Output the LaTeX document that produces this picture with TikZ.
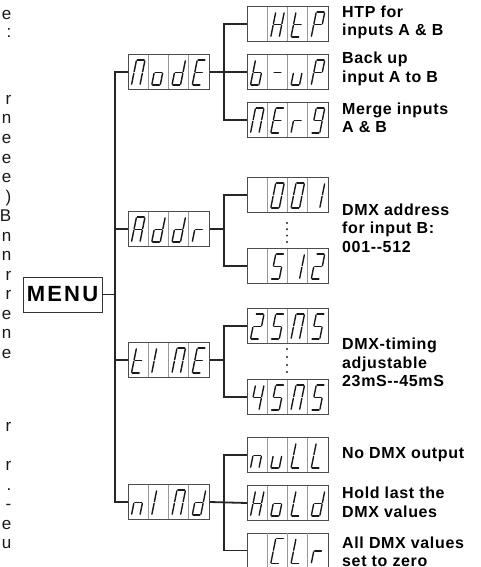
\documentclass[tikz,border=0pt]{standalone}
\usepackage{fontspec}
\setmainfont{Liberation Sans}
\newfontfamily\descfam[LetterSpace=4]{Liberation Sans}
\newfontfamily\menufam[LetterSpace=10]{Liberation Sans}
\newcommand\descfont{\descfam\bfseries\fontsize{16}{18.5}\selectfont}
\newcommand\edgefont{\fontsize{17}{18}\selectfont}
\tikzset{
  conn/.style={line width=1.8pt, black!85},
  disp/.style={draw=black!70, line width=0.9pt, minimum width=81pt, minimum height=35pt, inner sep=0pt, anchor=west, fill=white},
  cellsep/.style={draw=black!40, line width=0.7pt},
  segline/.style={line width=1.4pt, black!90, line cap=round, shorten <=0.9pt, shorten >=0.9pt},
  desc/.style={anchor=west, align=left, font=\descfont, inner sep=0pt},
  edgech/.style={anchor=base east, font=\edgefont, inner sep=0pt, black!90},
  menubox/.style={draw=black!80, line width=0.9pt, minimum width=79pt, minimum height=35pt, inner sep=0pt, font=\menufam\bfseries\fontsize{22}{22}\selectfont}
}
\newcommand\sga{\draw[segline] (8.5,6)--(17,6);}
\newcommand\sgb{\draw[segline] (17,6)--(14.5,18.5);}
\newcommand\sgc{\draw[segline] (14.5,18.5)--(12,31);}
\newcommand\sgd{\draw[segline] (3.5,31)--(12,31);}
\newcommand\sge{\draw[segline] (6,18.5)--(3.5,31);}
\newcommand\sgf{\draw[segline] (8.5,6)--(6,18.5);}
\newcommand\sgg{\draw[segline] (6,18.5)--(14.5,18.5);}
\newcommand\onedig[2]{\begin{scope}[xshift=#1*20.25pt]\foreach \s in {#2}{\csname sg\s\endcsname}\end{scope}}
\newcommand\dispbox[4]{%
  \node[disp] (#1) at (#2,#3) {};
  \begin{scope}[shift={(#1.north west)}]
    \foreach \i in {1,2,3} \draw[cellsep] (\i*20.25,0.5) -- (\i*20.25,34.5);
    #4
  \end{scope}}
\begin{document}
\begin{tikzpicture}[x=1pt,y=-1pt]
\useasboundingbox (0,0) rectangle (481,567);
\fill[white] (0,0) rectangle (481,567);
% cut-off letters of neighbouring text
\foreach \yy/\ch [count=\k] in {15/e,33/{:},100/r,119.5/n,139/e,158.5/e,178/e,197.5/),217/B,236.5/n,256/n,275.5/r,295/r,314.5/e,334/n,353.5/e,427/r,466/r,485.5/.,505/-,524.5/e,544/u}
  \node[edgech] (edge\k) at (11.5,\yy+4.5) {\ch};
% menu
\node[menubox] (menu) at (62.5,294.5) {MENU};
% level 1
\dispbox{mode}{128}{72}{\onedig{0}{a,b,c,e,f}\onedig{1}{c,d,e,g}\onedig{2}{b,c,d,e,g}\onedig{3}{a,d,e,f,g}}
\dispbox{addr}{128}{229}{\onedig{0}{a,b,c,e,f,g}\onedig{1}{b,c,d,e,g}\onedig{2}{b,c,d,e,g}\onedig{3}{e,g}}
\dispbox{time}{128}{360}{\onedig{0}{d,e,f,g}\onedig{1}{e,f}\onedig{2}{a,b,c,e,f}\onedig{3}{a,d,e,f,g}}
\dispbox{nimd}{128}{502}{\onedig{0}{c,e,g}\onedig{1}{e,f}\onedig{2}{a,b,c,e,f}\onedig{3}{b,c,d,e,g}}
% level 2
\dispbox{htp}{247}{24}{\onedig{1}{b,c,e,f,g}\onedig{2}{d,e,f,g}\onedig{3}{a,b,e,f,g}}
\dispbox{bup}{247}{72}{\onedig{0}{c,d,e,f,g}\onedig{1}{g}\onedig{2}{c,d,e}\onedig{3}{a,b,e,f,g}}
\dispbox{merg}{247}{120}{\onedig{0}{a,b,c,e,f}\onedig{1}{a,d,e,f,g}\onedig{2}{e,g}\onedig{3}{a,b,c,d,f,g}}
\dispbox{aa}{247}{195}{\onedig{1}{a,b,c,d,e,f}\onedig{2}{a,b,c,d,e,f}\onedig{3}{b,c}}
\dispbox{ab}{247}{266}{\onedig{1}{a,c,d,f,g}\onedig{2}{b,c}\onedig{3}{a,b,d,e,g}}
\dispbox{ta}{247}{326}{\onedig{0}{a,b,d,e,g}\onedig{1}{a,c,d,f,g}\onedig{2}{a,b,c,e,f}\onedig{3}{a,c,d,f,g}}
\dispbox{tb}{247}{397}{\onedig{0}{b,c,f,g}\onedig{1}{a,c,d,f,g}\onedig{2}{a,b,c,e,f}\onedig{3}{a,c,d,f,g}}
\dispbox{nul}{247}{455}{\onedig{0}{c,e,g}\onedig{1}{c,d,e}\onedig{2}{d,e,f}\onedig{3}{d,e,f}}
\dispbox{hld}{247}{503}{\onedig{0}{b,c,e,f,g}\onedig{1}{c,d,e,g}\onedig{2}{d,e,f}\onedig{3}{b,c,d,e,g}}
\dispbox{clr}{247}{550.5}{\onedig{1}{a,d,e,f}\onedig{2}{d,e,f}\onedig{3}{e,g}}
% dots
\foreach \yy in {223,229.3,235.6,242} \fill[black!85] (287,\yy) circle (1.1);
\foreach \yy in {349,357,365,372} \fill[black!85] (287,\yy) circle (1.1);
% connectors
\coordinate (j0) at (115,0);
\coordinate (j1) at (224,0);
\draw[conn] (menu.east) -- (menu.east -| j0);
\draw[conn] (mode.west) -| (nimd.west -| j0) -- (nimd.west);
\draw[conn] (addr.west -| j0) -- (addr.west);
\draw[conn] (time.west -| j0) -- (time.west);
\draw[conn] (mode.east) -- (bup.west);
\draw[conn] (htp.west) -| (merg.west -| j1) -- (merg.west);
\draw[conn] (addr.east) -- (addr.east -| j1);
\draw[conn] (aa.west) -| (ab.west -| j1) -- (ab.west);
\draw[conn] (time.east) -- (time.east -| j1);
\draw[conn] (ta.west) -| (tb.west -| j1) -- (tb.west);
\draw[conn] (nimd.east) -- (hld.west);
\draw[conn] (nul.west) -| (clr.west -| j1) -- (clr.west);
% descriptions
\node[desc] (d1) at (342,22.5) {HTP for\\inputs A \& B};
\node[desc] (d2) at (342,69) {Back up\\input A to B};
\node[desc] (d3) at (342,118) {Merge inputs\\A \& B};
\node[desc] (d4) at (342,228) {DMX address\\for input B:\\001--512};
\node[desc] (d5) at (342,362.5) {DMX-timing\\adjustable\\23mS--45mS};
\node[desc] (d6) at (342,455) {No DMX output};
\node[desc] (d7) at (342,502.5) {Hold last the\\DMX values};
\node[desc] (d8) at (342,552) {All DMX values\\set to zero};
\end{tikzpicture}
\end{document}
